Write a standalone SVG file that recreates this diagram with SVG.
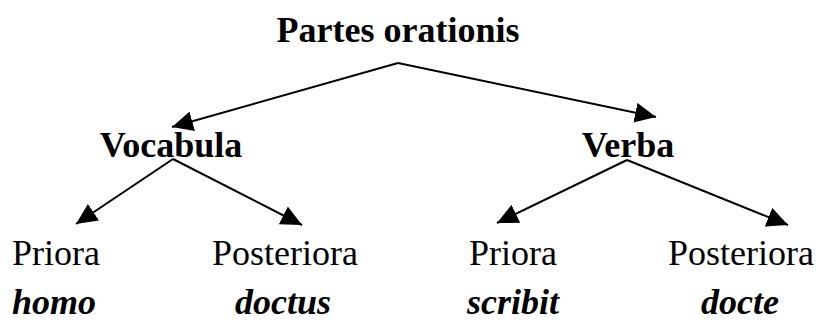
<svg xmlns="http://www.w3.org/2000/svg" width="817" height="322" viewBox="0 0 817 322">
<style>
text{font-family:"Liberation Serif","Times New Roman",serif;font-size:36px;fill:#000;text-anchor:middle}
.b{font-weight:bold}
.bi{font-weight:bold;font-style:italic}
.c{stroke:#000;stroke-width:2;fill:none;marker-end:url(#ah)}
</style>
<defs>
<marker id="ah" markerUnits="userSpaceOnUse" markerWidth="22" markerHeight="20" viewBox="0 0 22 20" refX="21" refY="10" orient="auto">
<path d="M0,0 L21,10 L0,20 Z" fill="#000"/>
</marker>
</defs>
<rect width="817" height="322" fill="#fff"/>
<g id="connectors">
<path class="c" d="M398,63 L172,127"/>
<path class="c" d="M398,63 L656,117"/>
<path class="c" d="M173,159 L76,224"/>
<path class="c" d="M173,159 L302,225"/>
<path class="c" d="M627,160 L497,223"/>
<path class="c" d="M627,160 L788,225"/>
</g>
<g id="partes"><text class="b" x="398" y="42">Partes orationis</text></g>
<g id="vocabula"><text class="b" x="171" y="157">Vocabula</text></g>
<g id="verba"><text class="b" x="628" y="157">Verba</text></g>
<g id="priora1"><text x="56" y="265">Priora</text><text class="bi" x="54" y="314">homo</text></g>
<g id="posteriora1"><text x="285" y="265">Posteriora</text><text class="bi" x="283" y="314">doctus</text></g>
<g id="priora2"><text x="513" y="265">Priora</text><text class="bi" x="513" y="314">scribit</text></g>
<g id="posteriora2"><text x="741" y="265">Posteriora</text><text class="bi" x="740" y="314">docte</text></g>
</svg>
